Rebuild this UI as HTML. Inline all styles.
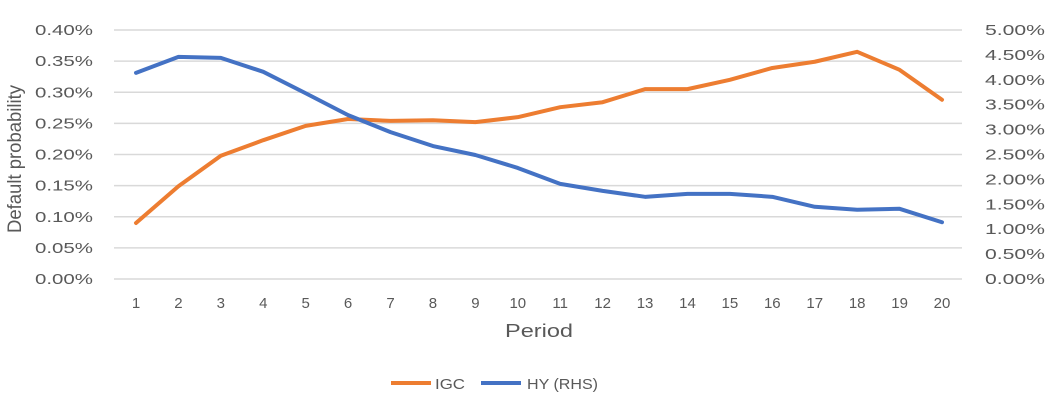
<!DOCTYPE html>
<html><head><meta charset="utf-8"><style>
body{margin:0;background:#fff}
svg text{font-family:"Liberation Sans",sans-serif;fill:#595959}
</style></head><body>
<svg width="1064" height="401" id="c">
<g id="grid"></g>
<g id="yl"></g>
<g id="yr"></g>
<g id="xl"></g>
<text x="21" y="159" font-size="19" text-anchor="middle" textLength="148" lengthAdjust="spacingAndGlyphs" transform="rotate(-90 21 159)">Default probability</text>
<text x="539" y="337" font-size="18" text-anchor="middle" textLength="68" lengthAdjust="spacingAndGlyphs">Period</text>
<g id="series"></g>
<g>
<line x1="391" y1="383" x2="431" y2="383" stroke="#ED7D31" stroke-width="4"/>
<text x="435" y="389" font-size="15" textLength="30" lengthAdjust="spacingAndGlyphs">IGC</text>
<line x1="481" y1="383" x2="521" y2="383" stroke="#4472C4" stroke-width="4"/>
<text x="527" y="389" font-size="15" textLength="71" lengthAdjust="spacingAndGlyphs">HY (RHS)</text>
</g>
</svg>
<script>
const periods=[1,2,3,4,5,6,7,8,9,10,11,12,13,14,15,16,17,18,19,20];
const igc=[0.090,0.149,0.198,0.223,0.246,0.257,0.254,0.255,0.252,0.260,0.276,0.284,0.305,0.305,0.320,0.339,0.349,0.365,0.336,0.288];
const hy=[4.14,4.46,4.44,4.16,3.73,3.29,2.95,2.67,2.49,2.23,1.91,1.77,1.65,1.71,1.71,1.65,1.45,1.39,1.41,1.14];
const leftTicks=[0,0.05,0.10,0.15,0.20,0.25,0.30,0.35,0.40];
const rightTicks=[0,0.5,1,1.5,2,2.5,3,3.5,4,4.5,5];
const NS="http://www.w3.org/2000/svg";
const plotTop=30,plotBot=279,plotL=114,plotR=962;
const yL=v=>plotBot-(v/0.40)*(plotBot-plotTop);
const yR=v=>plotBot-(v/5)*(plotBot-plotTop);
const xs=i=>136+(i)*(942-136)/(periods.length-1);
function mk(t,a,p){const e=document.createElementNS(NS,t);for(const k in a)e.setAttribute(k,a[k]);p.appendChild(e);return e;}
const g=document.getElementById('grid'),yl=document.getElementById('yl'),yr=document.getElementById('yr'),xl=document.getElementById('xl'),s=document.getElementById('series');
leftTicks.forEach(v=>{
 const ln=mk('line',{x1:plotL,x2:plotR,y1:yL(v),y2:yL(v),stroke:'#d9d9d9','stroke-width':1.5},g);
 
 
 const t=mk('text',{x:35,y:yL(v)+5,'font-size':15,textLength:58,lengthAdjust:'spacingAndGlyphs'},yl);
 t.textContent=v.toFixed(2)+'%';
 
 
});
rightTicks.forEach(v=>{
 const t=mk('text',{x:985,y:yR(v)+5,'font-size':15,textLength:60,lengthAdjust:'spacingAndGlyphs'},yr);
 t.textContent=v.toFixed(2)+'%';
 
 
});
periods.forEach((p,i)=>{
 const t=mk('text',{x:xs(i),y:308,'font-size':15,'text-anchor':'middle'},xl);
 t.textContent=p;
 
 
});
const pi=mk('polyline',{points:igc.map((v,i)=>xs(i)+','+yL(v)).join(' '),fill:'none',stroke:'#ED7D31','stroke-width':4,'stroke-linejoin':'round','stroke-linecap':'round'},s);


const ph=mk('polyline',{points:hy.map((v,i)=>xs(i)+','+yR(v)).join(' '),fill:'none',stroke:'#4472C4','stroke-width':4,'stroke-linejoin':'round','stroke-linecap':'round'},s);


</script>
</body></html>
